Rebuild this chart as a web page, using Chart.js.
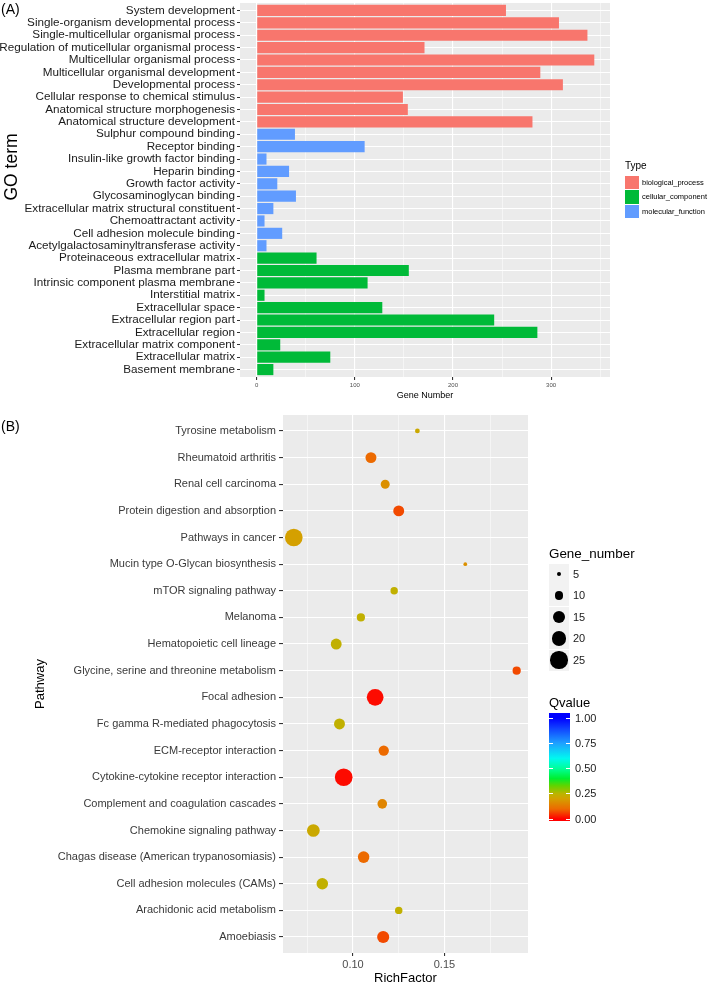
<!DOCTYPE html>
<html>
<head>
<meta charset="utf-8">
<script src="https://cdn.jsdelivr.net/npm/chart.js@4.4.1/dist/chart.umd.min.js"></script>
<style>
  body { margin: 0; background: #fff; font-family: "Liberation Sans", Arial, sans-serif; }
  #page { position: relative; width: 709px; height: 984px; overflow: hidden; }
  canvas { position: absolute; left: 0; }
  .txt { position: absolute; white-space: nowrap; color: #000; line-height: 1; }
</style>
</head>
<body>
<div id="page">
  <canvas id="goChart" width="709" height="402" style="top:0"></canvas>
  <canvas id="keggChart" width="709" height="584" style="top:400px"></canvas>
  <div class="txt" style="left:1px;top:2px;font-size:14px">(A)</div>
  <div class="txt" style="left:1px;top:419px;font-size:14px">(B)</div>
  <div class="txt" style="left:12px;top:167px;font-size:17.5px;transform:translate(-50%,-50%) rotate(-90deg)">GO term</div>
  <div id="legends"></div>
</div>
<script>
// ---- (A) GO terms ----
const goTerms = [
  "System development", "Single-organism developmental process", "Single-multicellular organismal process",
  "Regulation of muticellular organismal process", "Multicellular organismal process", "Multicellular organismal development",
  "Developmental process", "Cellular response to chemical stimulus", "Anatomical structure morphogenesis",
  "Anatomical structure development", "Sulphur compound binding", "Receptor binding",
  "Insulin-like growth factor binding", "Heparin binding", "Growth factor activity",
  "Glycosaminoglycan binding", "Extracellular matrix structural constituent", "Chemoattractant activity",
  "Cell adhesion molecule binding", "Acetylgalactosaminyltransferase activity", "Proteinaceous extracellular matrix",
  "Plasma membrane part", "Intrinsic component plasma membrane", "Interstitial matrix",
  "Extracellular space", "Extracellular region part", "Extracellular region",
  "Extracellular matrix component", "Extracellular matrix", "Basement membrane"
];
const goCounts = [254, 308, 337, 171, 344, 289, 312, 149, 154, 281,
                  39, 110, 10, 33, 21, 40, 17, 8, 26, 10,
                  61, 155, 113, 8, 128, 242, 286, 24, 75, 17];
const goTypes = [
  "biological_process", "biological_process", "biological_process", "biological_process", "biological_process",
  "biological_process", "biological_process", "biological_process", "biological_process", "biological_process",
  "molecular_function", "molecular_function", "molecular_function", "molecular_function", "molecular_function",
  "molecular_function", "molecular_function", "molecular_function", "molecular_function", "molecular_function",
  "cellular_component", "cellular_component", "cellular_component", "cellular_component", "cellular_component",
  "cellular_component", "cellular_component", "cellular_component", "cellular_component", "cellular_component"
];
const typeNames = ["biological_process", "cellular_component", "molecular_function"];
const typeColors = ["#F8766D", "#00BA38", "#619CFF"];
const geneTicks = [0, 50, 100, 150, 200, 250, 300, 350];

// ---- (B) KEGG pathways ----
const pathways = [
  "Tyrosine metabolism", "Rheumatoid arthritis", "Renal cell carcinoma", "Protein digestion and absorption",
  "Pathways in cancer", "Mucin type O-Glycan biosynthesis", "mTOR signaling pathway", "Melanoma",
  "Hematopoietic cell lineage", "Glycine, serine and threonine metabolism", "Focal adhesion",
  "Fc gamma R-mediated phagocytosis", "ECM-receptor interaction", "Cytokine-cytokine receptor interaction",
  "Complement and coagulation cascades", "Chemokine signaling pathway", "Chagas disease (American trypanosomiasis)",
  "Cell adhesion molecules (CAMs)", "Arachidonic acid metabolism", "Amoebiasis"
];
const richFactor = [0.1352, 0.1098, 0.1176, 0.1250, 0.0676, 0.1614, 0.1225, 0.1043, 0.0908, 0.1895,
                    0.1121, 0.0926, 0.1168, 0.0949, 0.1160, 0.0783, 0.1058, 0.0832, 0.1250, 0.1165];
const geneNumber = [5, 13, 10, 13, 26, 4, 8, 9, 13, 9, 24, 13, 12, 26, 11, 16, 14, 14, 8, 15];
const qValue = [0.22, 0.10, 0.17, 0.07, 0.20, 0.17, 0.24, 0.24, 0.24, 0.07,
                0.01, 0.24, 0.10, 0.01, 0.15, 0.22, 0.10, 0.24, 0.24, 0.07];
const richTicks = [0.075, 0.1, 0.125, 0.15, 0.175];
const sizeBreaks = [5, 10, 15, 20, 25];
const qBreaks = [1.00, 0.75, 0.50, 0.25, 0.00];

// colour ramp for Qvalue (red -> yellow -> green -> cyan -> blue)
const qStops = [[0, [255, 0, 0]], [0.1, [236, 106, 0]], [0.2, [212, 160, 0]], [0.25, [188, 180, 0]],
  [0.33, [96, 212, 0]], [0.4, [0, 238, 48]], [0.5, [0, 255, 153]], [0.6, [0, 248, 240]],
  [0.75, [30, 160, 255]], [0.9, [16, 64, 255]], [1, [0, 0, 255]]];

function qColor(q) {
  for (let i = 1; i < qStops.length; i++) {
    const [p1, c1] = qStops[i];
    const [p0, c0] = qStops[i - 1];
    if (q <= p1) {
      const t = (q - p0) / (p1 - p0);
      const c = c0.map((v, k) => Math.round(v + (c1[k] - v) * t));
      return `rgb(${c[0]},${c[1]},${c[2]})`;
    }
  }
  return "rgb(0,0,255)";
}

// ggplot-like size scale (area), limits 4..26
function geneRadius(n) {
  const size = 1 + 5 * (Math.sqrt(n) - 2) / (Math.sqrt(26) - 2);
  return 0.49 * (2.845 * size + 0.94);
}

// discrete axis with ggplot's 0.6 expansion instead of 0.5
function ggDiscrete(s) {
  s._startValue = s.min - 0.6;
  s._valueRange = s.max - s.min + 1.2;
}

// no extra room for first/last tick label
function noEdgePad(s) {
  s.paddingTop = 0;
  s.paddingBottom = 0;
}

const panelBg = {
  id: "panelBg",
  beforeDraw(chart) {
    const { ctx, chartArea: a } = chart;
    ctx.save();
    ctx.fillStyle = "#ebebeb";
    ctx.fillRect(a.left, a.top, a.right - a.left, a.bottom - a.top);
    ctx.restore();
  }
};

Chart.defaults.font.family = "'Liberation Sans', Arial, sans-serif";

// (A) horizontal bars
new Chart(document.getElementById("goChart"), {
  type: "bar",
  data: {
    labels: goTerms,
    datasets: [{
      data: goCounts,
      backgroundColor: goTypes.map(t => typeColors[typeNames.indexOf(t)]),
      barPercentage: 0.9,
      categoryPercentage: 1,
      borderWidth: 0
    }]
  },
  options: {
    indexAxis: "y",
    responsive: false,
    animation: false,
    devicePixelRatio: 1,
    layout: { padding: { top: 3, right: 99, bottom: 0, left: 0 } },
    plugins: { legend: { display: false }, tooltip: { enabled: false } },
    scales: {
      x: {
        type: "linear",
        min: -17,
        max: 360,
        afterBuildTicks: s => { s.ticks = geneTicks.map(v => ({ value: v })); },
        afterFit: s => { s.height = 25; },
        border: { display: false },
        grid: {
          color: "#fff",
          lineWidth: c => (c.tick && c.tick.value % 100 === 0 ? 1.1 : 0.5),
          tickLength: 3,
          tickColor: c => (c.tick && c.tick.value % 100 === 0 ? "#333" : "rgba(0,0,0,0)")
        },
        ticks: {
          callback: v => (v % 100 === 0 ? v : ""),
          font: { size: 6 },
          color: "#4d4d4d",
          padding: 2,
          maxRotation: 0,
          autoSkip: false
        },
        title: { display: true, text: "Gene Number", font: { size: 9 }, color: "#000", padding: { top: 0, bottom: 1 } }
      },
      y: {
        afterBuildTicks: ggDiscrete,
        afterFit: s => { s.width = 240; noEdgePad(s); },
        border: { display: false },
        grid: { offset: false, color: "#fff", lineWidth: 1, tickLength: 3, tickColor: "#333" },
        ticks: { autoSkip: false, font: { size: 11.7 }, color: "#1a1a1a", padding: 2 }
      }
    }
  },
  plugins: [panelBg]
});

// (B) bubble plot
const isMajor = v => Math.abs(v * 20 - Math.round(v * 20)) < 1e-6;
new Chart(document.getElementById("keggChart"), {
  type: "scatter",
  data: {
    datasets: [{
      data: pathways.map((p, i) => ({ x: richFactor[i], y: p })),
      pointRadius: c => geneRadius(geneNumber[c.dataIndex]),
      pointHoverRadius: c => geneRadius(geneNumber[c.dataIndex]),
      pointBackgroundColor: c => qColor(qValue[c.dataIndex]),
      pointBorderWidth: 0
    }]
  },
  options: {
    responsive: false,
    animation: false,
    devicePixelRatio: 1,
    layout: { padding: { top: 15, right: 181, bottom: 0, left: 33 } },
    plugins: { legend: { display: false }, tooltip: { enabled: false } },
    scales: {
      x: {
        type: "linear",
        min: 0.0617,
        max: 0.1957,
        afterBuildTicks: s => { s.ticks = richTicks.map(v => ({ value: v })); },
        afterFit: s => { s.height = 31; },
        border: { display: false },
        grid: {
          color: "#fff",
          lineWidth: c => (c.tick && isMajor(c.tick.value) ? 1.1 : 0.5),
          tickLength: 3,
          tickColor: c => (c.tick && isMajor(c.tick.value) ? "#333" : "rgba(0,0,0,0)")
        },
        ticks: {
          callback: v => (isMajor(v) ? v.toFixed(2) : ""),
          font: { size: 11 },
          color: "#4d4d4d",
          padding: 2,
          maxRotation: 0,
          autoSkip: false
        },
        title: { display: true, text: "RichFactor", font: { size: 13 }, color: "#000", padding: { top: 0, bottom: -2 } }
      },
      y: {
        type: "category",
        labels: pathways,
        offset: true,
        afterBuildTicks: ggDiscrete,
        afterFit: s => { s.width = 250; noEdgePad(s); },
        border: { display: false },
        grid: { offset: false, color: "#fff", lineWidth: 1.1, tickLength: 4, tickColor: "#333" },
        ticks: { autoSkip: false, font: { size: 11 }, color: "#3a3a3a", padding: 3 },
        title: { display: true, text: "Pathway", font: { size: 13 }, color: "#000", padding: { top: 0, bottom: 0 } }
      }
    }
  },
  plugins: [panelBg]
});

// ---- legends (HTML) ----
const lg = document.getElementById("legends");
function addDiv(style, text) {
  const d = document.createElement("div");
  d.className = "txt";
  d.style.cssText = style;
  if (text !== undefined) d.textContent = text;
  lg.appendChild(d);
  return d;
}

// Type legend
addDiv("left:625px;top:161px;font-size:10px", "Type");
typeNames.forEach((t, i) => {
  const top = 175.5 + i * 14.5;
  addDiv(`left:625px;top:${top}px;width:14px;height:13.5px;background:${typeColors[i]}`);
  addDiv(`left:642px;top:${top + 3}px;font-size:7.5px`, t);
});

// Gene_number legend
addDiv("left:549px;top:547px;font-size:13.4px", "Gene_number");
sizeBreaks.forEach((n, i) => {
  const cy = 574 + i * 21.5;
  addDiv(`left:549px;top:${cy - 10.5}px;width:20px;height:21px;background:#f2f2f2`);
  const r = geneRadius(n);
  addDiv(`left:${559 - r}px;top:${cy - r}px;width:${2 * r}px;height:${2 * r}px;border-radius:50%;background:#000`);
  addDiv(`left:573px;top:${cy - 5.5}px;font-size:11px;color:#1a1a1a`, String(n));
});

// Qvalue colour bar
addDiv("left:549px;top:696px;font-size:13px", "Qvalue");
const barTop = 713, barH = 108, y1 = 718, y0 = 819;
const grad = qStops.slice().reverse().map(([p, c]) => {
  const y = (y1 + (1 - p) * (y0 - y1) - barTop) / barH * 100;
  return `rgb(${c[0]},${c[1]},${c[2]}) ${y.toFixed(1)}%`;
}).join(",");
addDiv(`left:549px;top:${barTop}px;width:21px;height:${barH}px;background:linear-gradient(to bottom,${grad})`);
qBreaks.forEach(q => {
  const y = y1 + (1 - q) * (y0 - y1);
  addDiv(`left:549px;top:${y - 0.5}px;width:4px;height:1px;background:#fff`);
  addDiv(`left:566px;top:${y - 0.5}px;width:4px;height:1px;background:#fff`);
  addDiv(`left:575px;top:${y - 5.5}px;font-size:11px;color:#1a1a1a`, q.toFixed(2));
});
</script>
</body>
</html>
